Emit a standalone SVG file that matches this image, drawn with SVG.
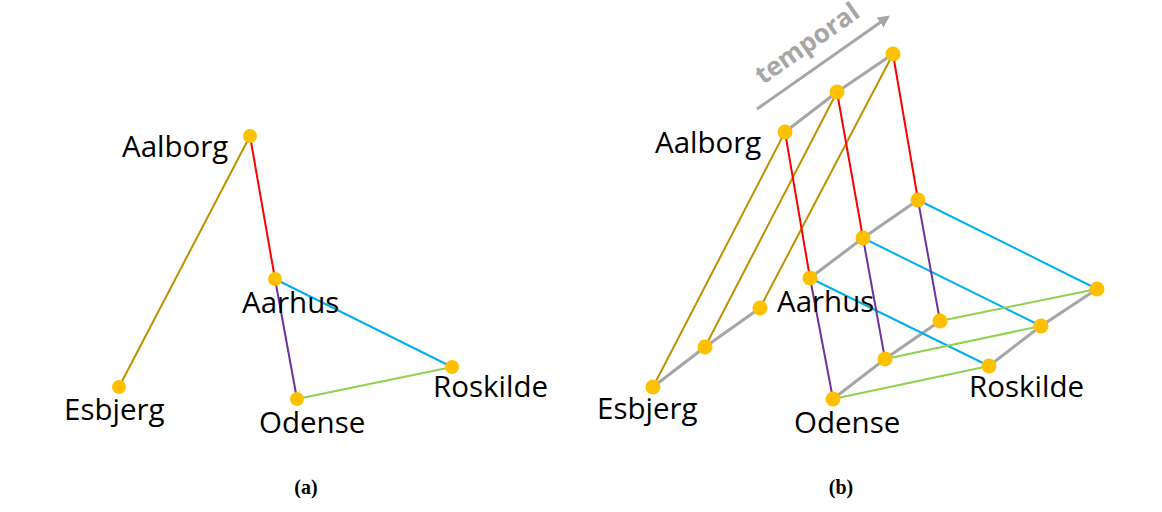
<svg xmlns="http://www.w3.org/2000/svg" width="1162" height="512" viewBox="0 0 1162 512">
<style>
.lbl{font-family:"Open Sans","Liberation Sans",sans-serif;font-size:29.5px;fill:#000}
.cap{font-family:"Liberation Serif","Times New Roman",serif;font-size:20px;font-weight:bold;fill:#000;text-anchor:middle}
.dot{fill:#ffc000}
.e{stroke-width:2;fill:none;stroke-linecap:round}
.gold{stroke:#bf9000}
.red{stroke:#ff0000}
.cyan{stroke:#00b0f0}
.purple{stroke:#7030a0}
.green{stroke:#92d050}
.time{stroke:#a6a6a6;stroke-width:3;fill:none}
.tmp{font-family:"Open Sans","Liberation Sans",sans-serif;font-size:26px;font-weight:bold;fill:#a6a6a6}
</style>
<defs>
<marker id="arr" viewBox="0 0 10 10" refX="8" refY="5" markerWidth="4" markerHeight="4" orient="auto" markerUnits="strokeWidth">
<path d="M0,0 L10,5 L0,10 z" fill="#a6a6a6"/>
</marker>
</defs>
<rect width="1162" height="512" fill="#ffffff"/>

<g id="connectors">
<!-- panel a -->
<line class="e gold" x1="250" y1="136" x2="119" y2="387"/>
<line class="e red" x1="250" y1="136" x2="275" y2="279"/>
<line class="e cyan" x1="275" y1="279" x2="452" y2="367"/>
<line class="e purple" x1="275" y1="279" x2="297" y2="399"/>
<line class="e green" x1="297" y1="399" x2="452" y2="367"/>
<!-- panel b temporal -->
<polyline class="time" points="653,387 705,347 760,308"/>
<polyline class="time" points="785,132 837,92 893,54"/>
<polyline class="time" points="810,278 863,238 918,200"/>
<polyline class="time" points="833,399 885,359 940,321"/>
<polyline class="time" points="989,366 1041,326 1097,289"/>
<!-- panel b edges -->
<line class="e gold" x1="785" y1="132" x2="653" y2="387"/>
<line class="e gold" x1="837" y1="92" x2="705" y2="347"/>
<line class="e gold" x1="893" y1="54" x2="760" y2="308"/>
<line class="e red" x1="785" y1="132" x2="810" y2="278"/>
<line class="e red" x1="837" y1="92" x2="863" y2="238"/>
<line class="e red" x1="893" y1="54" x2="918" y2="200"/>
<line class="e cyan" x1="810" y1="278" x2="989" y2="366"/>
<line class="e cyan" x1="863" y1="238" x2="1041" y2="326"/>
<line class="e cyan" x1="918" y1="200" x2="1097" y2="289"/>
<line class="e purple" x1="810" y1="278" x2="833" y2="399"/>
<line class="e purple" x1="863" y1="238" x2="885" y2="359"/>
<line class="e purple" x1="918" y1="200" x2="940" y2="321"/>
<line class="e green" x1="833" y1="399" x2="989" y2="366"/>
<line class="e green" x1="885" y1="359" x2="1041" y2="326"/>
<line class="e green" x1="940" y1="321" x2="1097" y2="289"/>
<!-- temporal arrow -->
<line x1="757" y1="109" x2="888" y2="17" stroke="#a6a6a6" stroke-width="3" marker-end="url(#arr)"/>
</g>

<g id="temporal-label">
<text class="tmp" transform="translate(763,85) rotate(-35)">temporal</text>
</g>

<!-- panel a nodes -->
<g id="a-aalborg"><circle class="dot" cx="250" cy="136" r="7"/><text class="lbl" x="122" y="157">Aalborg</text></g>
<g id="a-aarhus"><circle class="dot" cx="275" cy="279" r="7"/><text class="lbl" x="242" y="313">Aarhus</text></g>
<g id="a-esbjerg"><circle class="dot" cx="119" cy="387" r="7"/><text class="lbl" x="64" y="420">Esbjerg</text></g>
<g id="a-odense"><circle class="dot" cx="297" cy="399" r="7"/><text class="lbl" x="259" y="433">Odense</text></g>
<g id="a-roskilde"><circle class="dot" cx="452" cy="367" r="7"/><text class="lbl" x="433" y="397">Roskilde</text></g>

<!-- panel b nodes -->
<g id="b-aalborg">
<circle class="dot" cx="785" cy="132" r="7.5"/><circle class="dot" cx="837" cy="92" r="7.5"/><circle class="dot" cx="893" cy="54" r="7.5"/>
<text class="lbl" x="655" y="153">Aalborg</text>
</g>
<g id="b-aarhus">
<circle class="dot" cx="810" cy="278" r="7.5"/><circle class="dot" cx="863" cy="238" r="7.5"/><circle class="dot" cx="918" cy="200" r="7.5"/>
<text class="lbl" x="777" y="312">Aarhus</text>
</g>
<g id="b-esbjerg">
<circle class="dot" cx="653" cy="387" r="7.5"/><circle class="dot" cx="705" cy="347" r="7.5"/><circle class="dot" cx="760" cy="308" r="7.5"/>
<text class="lbl" x="597" y="419">Esbjerg</text>
</g>
<g id="b-odense">
<circle class="dot" cx="833" cy="399" r="7.5"/><circle class="dot" cx="885" cy="359" r="7.5"/><circle class="dot" cx="940" cy="321" r="7.5"/>
<text class="lbl" x="794" y="433">Odense</text>
</g>
<g id="b-roskilde">
<circle class="dot" cx="989" cy="366" r="7.5"/><circle class="dot" cx="1041" cy="326" r="7.5"/><circle class="dot" cx="1097" cy="289" r="7.5"/>
<text class="lbl" x="969" y="397">Roskilde</text>
</g>

<g id="captions">
<text class="cap" x="306" y="494">(a)</text>
<text class="cap" x="841" y="494">(b)</text>
</g>
</svg>
